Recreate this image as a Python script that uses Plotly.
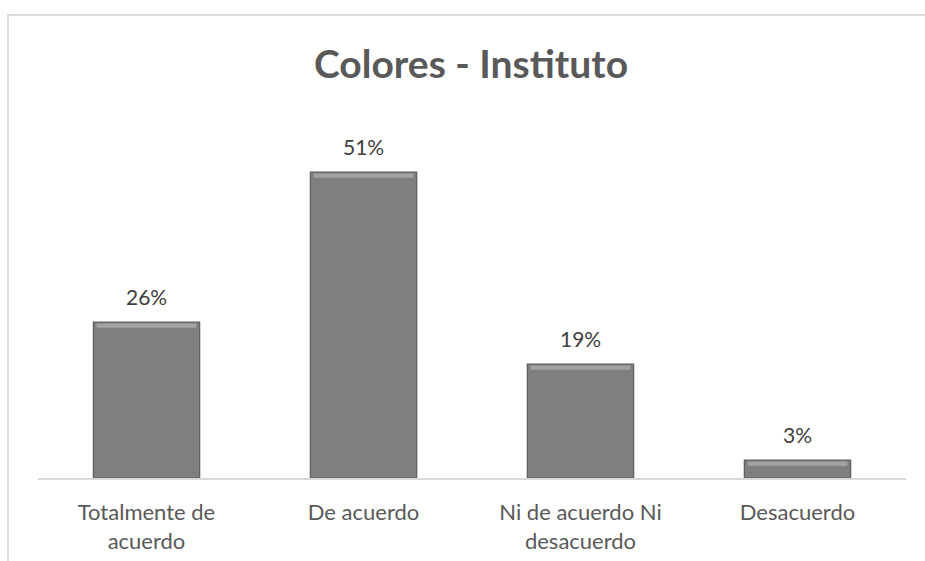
import plotly.graph_objects as go

# Survey results: agreement with the institute's colours
categorias = ["Totalmente de<br>acuerdo", "De acuerdo", "Ni de acuerdo Ni<br>desacuerdo", "Desacuerdo"]
porcentajes = [26, 51, 19, 3]
etiquetas = [f"{v}%" for v in porcentajes]

W, H = 925, 561
L, R, T, B = 38, 19, 118, 83  # plot area margins in px
pw, ph = W - L - R, H - T - B
FUENTE = "Lato, Open Sans, sans-serif"

fig = go.Figure()

# main bars
fig.add_trace(go.Bar(
    x=categorias, y=porcentajes,
    marker=dict(color="#7f7f7f", line=dict(color="#5c5c5c", width=1.2)),
    hoverinfo="skip", width=0.49,
))
# thin lighter band along each bar's top edge (bevel highlight)
banda = 0.7
fig.add_trace(go.Bar(
    x=categorias, y=[banda] * len(porcentajes),
    base=[v - banda - 0.25 for v in porcentajes],
    marker=dict(color="#a3a3a3", line=dict(width=0)),
    hoverinfo="skip", width=0.46,
))

# value labels above each bar
anotaciones = [
    dict(x=c, y=v, text=t, xref="x", yref="y", showarrow=False,
         yanchor="middle", yshift=26,
         font=dict(family=FUENTE, size=21, color="#404040"))
    for c, v, t in zip(categorias, porcentajes, etiquetas)
]

fig.update_layout(
    width=W, height=H,
    margin=dict(l=L, r=R, t=T, b=B, autoexpand=False),
    paper_bgcolor="white", plot_bgcolor="white",
    barmode="overlay", showlegend=False,
    annotations=anotaciones,
    title=dict(text="<b>Colores - Instituto</b>", x=(471 - L) / pw, xref="paper",
               xanchor="center", y=1 - 64 / H, yanchor="middle",
               font=dict(family=FUENTE, size=39, color="#595959")),
    xaxis=dict(showline=True, linecolor="#d9d9d9", linewidth=1.5, ticks="",
               ticklabelstandoff=14, automargin=False,
               tickfont=dict(family=FUENTE, size=22, color="#595959"),
               showgrid=False),
    yaxis=dict(range=[0, ph / 6.0], visible=False, showgrid=False, zeroline=False,
               automargin=False),
    shapes=[dict(type="rect", xref="paper", yref="paper",
                 x0=(8 - L) / pw, x1=(W + 5 - L) / pw,
                 y0=-(H + 5 - T - ph) / ph, y1=(T + ph - 15) / ph,
                 line=dict(color="#d0d0d0", width=1.5), layer="below")],
)

fig.write_html("out.html")
